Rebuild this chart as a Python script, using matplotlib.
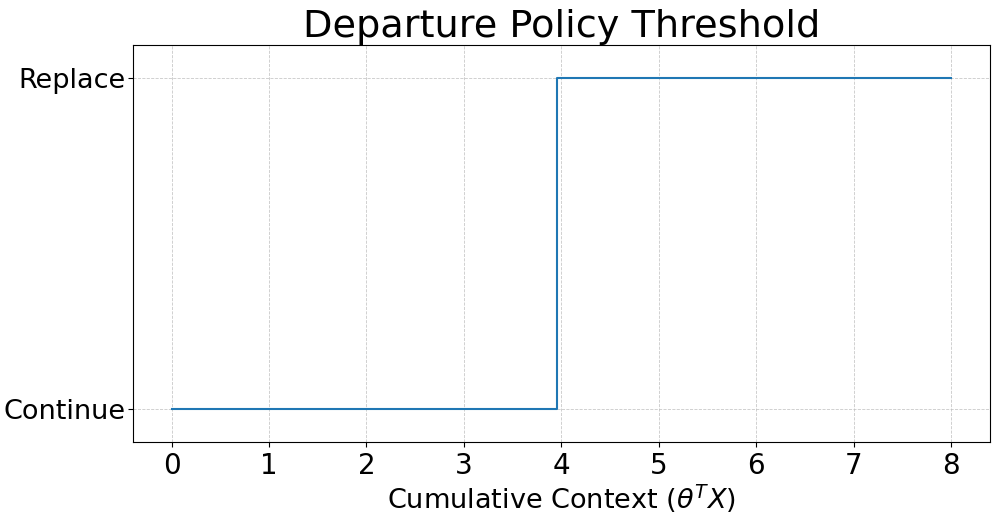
import matplotlib
matplotlib.use("Agg")
import matplotlib.pyplot as plt

# policy: continue below threshold, replace above
context = [0, 3.96, 8]
action = [0, 1, 1]
action_labels = ["Continue", "Replace"]

fig, ax = plt.subplots(figsize=(9.97, 5.15), dpi=100)
ax.step(context, action, where='post', color='#1f77b4', linewidth=1.5)

ax.set_ylim(-0.1, 1.1)
ax.set_yticks([0, 1])
ax.set_yticklabels(action_labels)
ax.set_xticks(range(0, 9))
ax.tick_params(axis='x', labelsize=20)
ax.tick_params(axis='y', labelsize=19.5, pad=1.5)
ax.grid(True, linestyle='--', linewidth=0.6, color='#bbbbbb', alpha=0.8)

ax.set_xlabel(r"Cumulative Context ($\theta^T X$)", fontsize=19.5, labelpad=2)
ax.set_title("Departure Policy Threshold", fontsize=27.5, pad=3)

fig.subplots_adjust(left=0.133, right=0.993, top=0.913, bottom=0.142)
fig.savefig("out.png")
